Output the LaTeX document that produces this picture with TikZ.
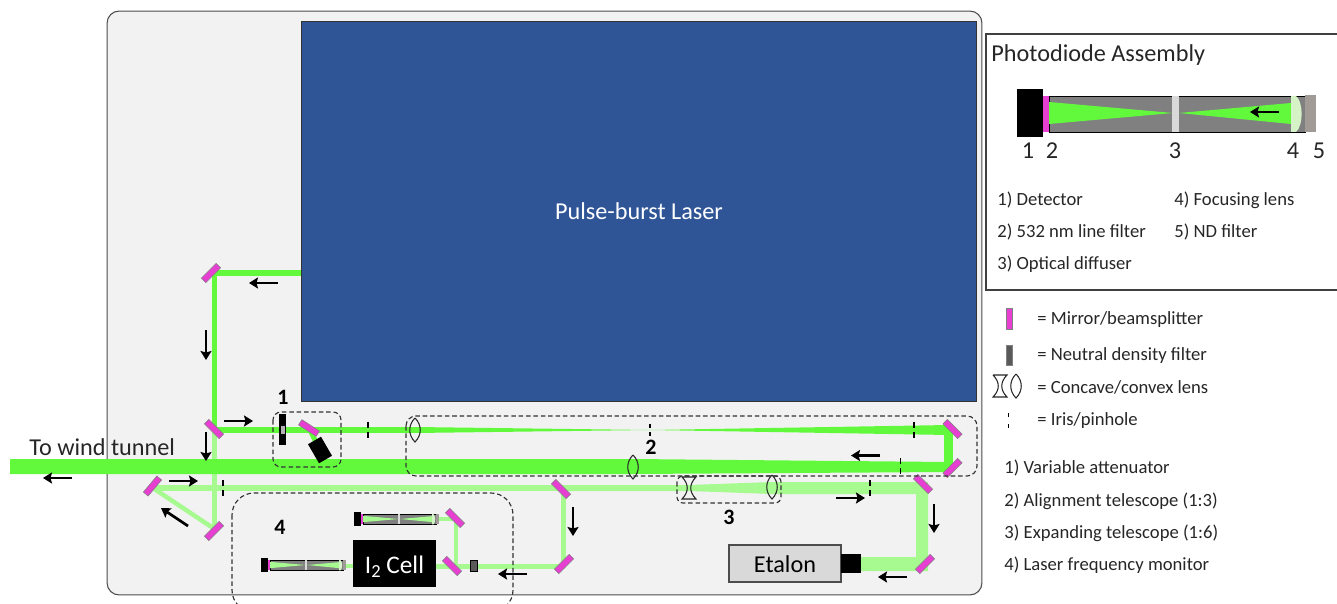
\documentclass[tikz,border=0pt]{standalone}
\usepackage{fontspec}
\setmainfont{Carlito}
\usepackage{tikz}
\usetikzlibrary{arrows.meta, positioning, calc, backgrounds}
\usepackage{xcolor}
\definecolor{beamgreen}{HTML}{62F93C}
\definecolor{weakgreen}{HTML}{A6FA90}
\definecolor{mirrorpink}{HTML}{E63FD2}
\definecolor{panelgray}{HTML}{F2F2F2}
\definecolor{laserblue}{HTML}{2F5597}
\definecolor{ndgray}{HTML}{595959}
\definecolor{lensgreen}{HTML}{D6F3C8}
\definecolor{ndtube}{HTML}{A19B97}

\tikzset{
  beam/.style={draw=beamgreen, line width=#1*0.02cm},
  weakbeam/.style={draw=weakgreen, line width=#1*0.02cm},
  mirror/.style={draw=gray, line width=0.3pt, fill=mirrorpink, inner sep=0pt, minimum width=0.42cm, minimum height=0.125cm},
  flow/.style={draw=black, line width=0.055cm, -{Stealth[length=0.18cm, width=0.22cm, inset=0.03cm]}},
  groupbox/.style={draw=black!80, line width=0.65pt, dash pattern=on 2.6pt off 1.6pt, rounded corners=#1*0.02cm},
  tag/.style={font=\fontsize{12.5}{14}\selectfont\bfseries, inner sep=0pt},
  txt/.style={font=\fontsize{10.6}{12}\selectfont, inner sep=0pt, anchor=west, text=black!85, yshift=-0.55pt},
  bigtxt/.style={font=\fontsize{13.8}{15}\selectfont, inner sep=0pt, text=black!85},
  pics/convexlens/.style={code={
    \draw[black!85, line width=0.6pt] (0,-12) .. controls (-7,-5) and (-7,5) .. (0,12)
      .. controls (7,5) and (7,-5) .. (0,-12);
  }},
  pics/concavelens/.style={code={
    \draw[black!85, line width=0.6pt] (-7,-11) -- (7,-11) .. controls (0,-4) and (0,4) .. (7,11)
      -- (-7,11) .. controls (0,4) and (0,-4) .. (-7,-11);
  }},
  pics/iris/.style={code={
    \draw[black, line width=0.03cm] (0,-#1) -- (0,-2) (0,2) -- (0,#1);
  }},
  pics/pdtube/.style={code={
    \fill[black] (0,-24) rectangle (26,24);
    \fill[mirrorpink] (26,-17) rectangle (32,19);
    \draw[black, fill=gray, line width=0.4pt] (32,-17) rectangle (288,19);
    \fill[#1] (32,-11) -- (156,0) -- (32,11) -- cycle;
    \fill[#1] (162,0) -- (274,-10) -- (274,11) -- cycle;
    \fill[black!15] (155,-17) rectangle (162,19);
    \fill[lensgreen] (274,-17) -- (279,-17) .. controls (286,-12) and (287,12) .. (279,19) -- (274,19) -- cycle;
    \fill[ndtube] (288,-18) rectangle (299,19);
  }},
}

\begin{document}
\begin{tikzpicture}[x=0.02cm, y=-0.02cm]
  \useasboundingbox (0,0) rectangle (1337,604);

  % mirrors
  \node[mirror, rotate=45]  (m1)  at (211,273) {};
  \node[mirror, rotate=-45] (m2)  at (214,429) {};
  \node[mirror, rotate=50]  (m3)  at (152.5,486) {};
  \node[mirror, rotate=45]  (m4)  at (214,531) {};
  \node[mirror, rotate=-33] (m5)  at (309,428) {};
  \node[mirror, rotate=-45] (m6)  at (952.5,429) {};
  \node[mirror, rotate=45]  (m7)  at (952.5,468) {};
  \node[mirror, rotate=-45] (m8)  at (923,484) {};
  \node[mirror, rotate=45]  (m9)  at (925,564) {};
  \node[mirror, rotate=-45] (m10) at (561,489) {};
  \node[mirror, rotate=45]  (m11) at (564,564) {};
  \node[mirror, rotate=-45] (m12) at (452,566) {};
  \node[mirror, rotate=-45] (m13) at (455,518) {};

  % frequency monitor
  \node[fill=black, text=white, minimum width=1.66cm, minimum height=0.94cm, inner sep=0pt, text height=11.4pt, text depth=0pt, font=\fontsize{14.4}{16}\selectfont] (cell) at (394.5,563.5) {I\raisebox{-0.35ex}{\fontsize{10.5}{11}\selectfont 2} Cell};

  % beam corners
  \coordinate (b1) at (214.5,273);
  \coordinate (b2) at (214.5,430);
  \coordinate (b3) at (214.5,529);
  \coordinate (b4) at (153,488);
  \coordinate (b5) at (563,488);
  \coordinate (b6) at (563,566);
  \coordinate (b7) at (456,566);
  \coordinate (b8) at (456,519);

  \begin{pgfonlayer}{background}
    \node[draw=black!70, fill=panelgray, line width=0.6pt, rounded corners=0.24cm, minimum width=17.5cm, minimum height=11.68cm] (panel) at (544.5,303) {};
    \node[draw=black!80, fill=laserblue, line width=0.4pt, minimum width=13.5cm, minimum height=7.6cm, text=white, font=\fontsize{13.8}{15}\selectfont] (laser) at (639,211) {Pulse-burst Laser};

    % weak beams
    \draw[weakbeam=5] (b2) -- (b3);
    \draw[weakbeam=4.5] (b3) -- (b4);
    \draw[weakbeam=6] (b4) -- (b5);
    \draw[weakbeam=5, line join=round] (b5) -- (b6) -- (cell.east |- b6);
    \draw[weakbeam=4.5] (b7) -- (b8) -- (430,519);
    \fill[weakgreen] (560,485) -- (689,485) -- (772,482) -- (922,482) -- (928,482) -- (928,571) -- (861,571) -- (861,557) -- (916,557) -- (916,494) -- (772,494) -- (689,491) -- (560,491) -- cycle;
    \draw[weakbeam=4.5] (340,566) -- (cell.west |- b6);

    % strong beams
    \draw[beam=5.5] (laser.west |- b1) -- (b1) -- (b2);
    \draw[beam=5.5] (b2) -- (415,430);
    \draw[beam=5] (m5.center) -- (320,450);
    \fill[beamgreen] (415,427) -- (650,430) -- (949,425) -- (949,435) -- (650,430) -- (415,433) -- cycle;
    \draw[beam=9] (948.5,425) -- (948.5,472);
    \fill[beamgreen] (10,459) -- (633,459) -- (948,462) -- (948,472) -- (633,474) -- (10,474) -- cycle;
  \end{pgfonlayer}

  % attenuator
  \fill[black] (279,414) rectangle (286,445);
  \fill[black!30] (280.5,426) rectangle (284.5,434);
  \node[fill=black, inner sep=0pt, minimum width=0.44cm, minimum height=0.3cm, rotate=-60] (dump) at (320,450) {};

  % lenses and irises
  \pic at (415,430) {convexlens};
  \pic at (633,467) {convexlens};
  \pic at (772,487) {convexlens};
  \pic at (689,488) {concavelens};
  \pic at (368,429.5) {iris=8};
  \pic at (650,430) {iris=6};
  \pic at (914,430) {iris=8};
  \pic at (900.5,466) {iris=8};
  \pic at (870,488) {iris=8};
  \pic at (223,488) {iris=8};

  \pic[scale=0.285] at (354,519) {pdtube=weakgreen};
  \pic[scale=0.285] at (261,565) {pdtube=weakgreen};
  \draw[black, fill=ndgray, line width=0.3pt] (470.5,560) rectangle (477,571);

  % etalon
  \node[draw=black!70, fill=black!15, line width=0.6pt, minimum width=2.24cm, minimum height=0.74cm, inner sep=0pt, text height=10.5pt, text depth=0pt, font=\fontsize{13.8}{15}\selectfont] (etalon) at (785,563.5) {Etalon};
  \fill[black] (841,554) rectangle (861,573);

  % dashed groups
  \draw[groupbox=8] (273,412) rectangle (341,467);
  \draw[groupbox=10] (406,416) rectangle (977,476);
  \draw[groupbox=6] (677,476) rectangle (781,503);
  \draw[groupbox=22] (232,493) rectangle (513,612);
  \node[tag] (tag1) at (283,397) {1};
  \node[tag] (tag2) at (651,447) {2};
  \node[tag] (tag3) at (729,517) {3};
  \node[tag] (tag4) at (280,527) {4};

  % flow directions
  \draw[flow] (278,283) -- (249,283);
  \draw[flow] (206,330) -- (206,360);
  \draw[flow] (224,421) -- (253,421);
  \draw[flow] (206,432) -- (206,461);
  \draw[flow] (169,481) -- (198,481);
  \draw[flow] (188,526) -- (161,508);
  \draw[flow] (72,478) -- (43,478);
  \draw[flow] (573,507) -- (573,536);
  \draw[flow] (527,574) -- (498,574);
  \draw[flow] (880,455.5) -- (851,455.5);
  \draw[flow] (836,498) -- (865,498);
  \draw[flow] (934,504) -- (934,533);
  \draw[flow] (907,577) -- (878,577);

  \node[bigtxt, anchor=west] (tunnel) at (29,447) {To wind tunnel};

  % photodiode assembly
  \draw[black!75, line width=0.6pt] (1337,34) -- (986,34) -- (986,290) -- (1337,290);
  \node[bigtxt, anchor=west] (pdtitle) at (991,55) {Photodiode Assembly};
  \pic at (1017,113) {pdtube=beamgreen};
  \draw[flow] (1279,112) -- (1250,112);
  \node[bigtxt] (pd1) at (1028,151) {1};
  \node[bigtxt] (pd2) at (1052,151) {2};
  \node[bigtxt] (pd3) at (1175,151) {3};
  \node[bigtxt] (pd4) at (1293,151) {4};
  \node[bigtxt] (pd5) at (1319,151) {5};
  \node[txt] (pdl1) at (997,199) {1) Detector};
  \node[txt] (pdl2) at (997,231) {2) 532 nm line filter};
  \node[txt] (pdl3) at (997,263) {3) Optical diffuser};
  \node[txt] (pdl4) at (1174,199) {4) Focusing lens};
  \node[txt] (pdl5) at (1174,231) {5) ND filter};

  % legend
  \node[mirror, rotate=90] (keymirror) at (1009,319) {};
  \node[draw=gray, line width=0.3pt, fill=ndgray, inner sep=0pt, minimum width=0.115cm, minimum height=0.4cm] (keynd) at (1009,355) {};
  \pic at (1000,386) {concavelens};
  \pic at (1016,386) {convexlens};
  \draw[black, line width=0.03cm] (1008.5,413) -- (1008.5,417) (1008.5,424) -- (1008.5,428);
  \node[txt] (keyt1) at (1037,319) {= Mirror/beamsplitter};
  \node[txt] (keyt2) at (1037,355) {= Neutral density filter};
  \node[txt] (keyt3) at (1037,386) {= Concave/convex lens};
  \node[txt] (keyt4) at (1037,420) {= Iris/pinhole};
  \node[txt] (keyl1) at (1004,467) {1) Variable attenuator};
  \node[txt] (keyl2) at (1004,500) {2) Alignment telescope (1:3)};
  \node[txt] (keyl3) at (1004,532) {3) Expanding telescope (1:6)};
  \node[txt] (keyl4) at (1004,564) {4) Laser frequency monitor};
\end{tikzpicture}
\end{document}
